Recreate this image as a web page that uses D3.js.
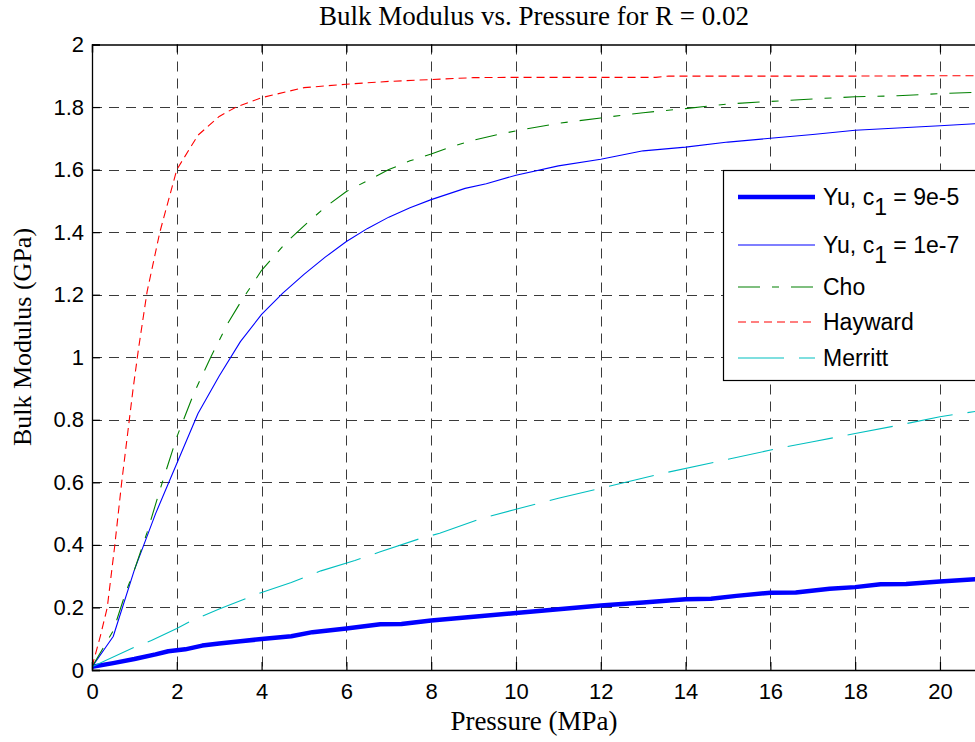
<!DOCTYPE html>
<html>
<head>
<meta charset="utf-8">
<script src="https://cdn.jsdelivr.net/npm/d3@7"></script>
<style>
  html, body { margin: 0; padding: 0; background: #fff; }
  svg { display: block; }
</style>
</head>
<body>
<svg id="chart" width="975" height="742"></svg>
<script>
// Bulk modulus (GPa) against confining pressure (MPa), one [P, B] list per model
const yuC1Large = [[0,0.01],[0.5,0.022],[1,0.035],[1.5,0.05],[1.8,0.06],[2.2,0.066],[2.6,0.078],[3,0.085],[3.5,0.092],[4,0.099],[4.7,0.108],[5.2,0.121],[6,0.133],[6.8,0.146],[7.3,0.147],[8,0.158],[9,0.17],[10,0.182],[11,0.194],[12,0.206],[13,0.216],[14,0.226],[14.6,0.228],[15.2,0.237],[16,0.247],[16.6,0.248],[17.4,0.26],[18,0.265],[18.6,0.274],[19.2,0.275],[20,0.283],[21,0.292]];
const yuC1Small = [[0,0.01],[0.5,0.107],[1,0.32],[1.5,0.5],[2,0.66],[2.5,0.82],[3,0.94],[3.5,1.05],[4,1.137],[4.5,1.205],[5,1.265],[5.5,1.32],[6,1.37],[6.5,1.412],[7,1.448],[7.5,1.478],[8,1.504],[8.8,1.54],[9.3,1.555],[10,1.582],[11,1.612],[12,1.633],[13,1.66],[14,1.672],[15,1.688],[16,1.7],[17,1.712],[18,1.726],[19,1.733],[20,1.74],[21,1.748]];
const cho = [[0,0.01],[0.5,0.125],[0.8,0.25],[1,0.32],[1.3,0.44],[1.6,0.575],[2,0.745],[2.4,0.884],[2.8,1.0],[3.2,1.108],[3.5,1.175],[4,1.278],[4.6,1.37],[5,1.42],[5.5,1.48],[6,1.53],[6.5,1.565],[7,1.6],[7.5,1.628],[8,1.65],[8.5,1.674],[9,1.694],[9.5,1.71],[10,1.724],[11,1.748],[12,1.765],[13,1.782],[14,1.795],[15,1.81],[16,1.818],[17,1.826],[18,1.833],[19,1.836],[20,1.843],[21,1.848]];
const hayward = [[0,0.01],[0.2,0.11],[0.36,0.2],[0.53,0.39],[0.7,0.6],[0.97,0.9],[1.1,1.03],[1.3,1.21],[1.6,1.4],[2,1.6],[2.5,1.71],[3,1.77],[3.4,1.8],[4,1.83],[5,1.862],[6,1.873],[7,1.882],[8,1.888],[9,1.894],[10,1.895],[12,1.895],[13.3,1.895],[13.6,1.899],[16,1.899],[18,1.899],[20,1.9],[21,1.9]];
const merritt = [[0,0.01],[1,0.073],[1.4,0.094],[2,0.133],[2.35,0.158],[3,0.195],[4,0.248],[4.7,0.28],[5.4,0.317],[6.2,0.35],[6.8,0.378],[7.8,0.423],[8.2,0.437],[9.2,0.485],[10,0.514],[11,0.549],[12,0.581],[13.4,0.627],[14.8,0.668],[16.2,0.709],[17,0.73],[18,0.756],[19,0.782],[20,0.81],[21,0.83]];

const xTicks = [0,2,4,6,8,10,12,14,16,18,20];
const yTicks = [0,0.2,0.4,0.6,0.8,1,1.2,1.4,1.6,1.8,2];
const legendLabels = [["Yu, c", "1", " = 9e-5"], ["Yu, c", "1", " = 1e-7"], ["Cho"], ["Hayward"], ["Merritt"]];

const seriesStyle = [
  { data: yuC1Large, color: "#0000ff", width: 4.5, dash: null },
  { data: yuC1Small, color: "#0000ff", width: 1.1, dash: null },
  { data: cho,       color: "#008000", width: 1.1, dash: "22,12,7,12" },
  { data: hayward,   color: "#ff0000", width: 1.1, dash: "8,5" },
  { data: merritt,   color: "#00bfbf", width: 1.1, dash: "46,15" }
];

const svg = d3.select("#chart");
const margin = { left: 92, top: 44.5, right: 976, bottom: 670 };

const x = d3.scaleLinear().domain([0, 20.85]).range([margin.left, margin.right]);
const y = d3.scaleLinear().domain([0, 2]).range([margin.bottom, margin.top]);

svg.append("defs").append("clipPath").attr("id", "plotClip")
  .append("rect")
  .attr("x", margin.left).attr("y", margin.top)
  .attr("width", margin.right - margin.left).attr("height", margin.bottom - margin.top);

// dashed grid
const grid = svg.append("g").attr("stroke", "#3a3a3a").attr("stroke-width", 1).attr("stroke-dasharray", "10,7").attr("fill", "none");
grid.selectAll("line.v").data(xTicks.filter(d => d > 0)).join("line")
  .attr("x1", d => Math.round(x(d)) + 0.5).attr("x2", d => Math.round(x(d)) + 0.5)
  .attr("y1", margin.top).attr("y2", margin.bottom);
grid.selectAll("line.h").data(yTicks.filter(d => d > 0 && d < 2)).join("line")
  .attr("y1", d => Math.round(y(d)) + 0.5).attr("y2", d => Math.round(y(d)) + 0.5)
  .attr("x1", margin.left).attr("x2", margin.right);

// curves
const line = d3.line().x(d => x(d[0])).y(d => y(d[1]));
const curves = svg.append("g").attr("clip-path", "url(#plotClip)");
seriesStyle.forEach(s => {
  curves.append("path")
    .attr("d", line(s.data))
    .attr("fill", "none")
    .attr("stroke", s.color)
    .attr("stroke-width", s.width)
    .attr("stroke-linejoin", "round")
    .attr("stroke-dasharray", s.dash);
});

// axes with inward ticks
const fmt = d => String(+d.toFixed(1));
const axisFont = "'Liberation Sans', Arial, sans-serif";

const gx = svg.append("g").attr("transform", `translate(0,${margin.bottom})`)
  .call(d3.axisBottom(x).tickValues(xTicks).tickFormat(fmt).tickSize(-8).tickPadding(13));
const gy = svg.append("g").attr("transform", `translate(${margin.left},0)`)
  .call(d3.axisLeft(y).tickValues(yTicks).tickFormat(fmt).tickSize(-8).tickPadding(8));
const gt = svg.append("g").attr("transform", `translate(0,${margin.top})`)
  .call(d3.axisTop(x).tickValues(xTicks).tickFormat("").tickSize(-8));

[gx, gy, gt].forEach(g => {
  g.selectAll("path.domain").attr("stroke", "#000").attr("stroke-width", 1.3);
  g.selectAll(".tick line").attr("stroke", "#000").attr("stroke-width", 1.2);
  g.selectAll(".tick text").attr("fill", "#000").style("font-family", axisFont).style("font-size", "22px");
});

// titles
const serif = "'Liberation Serif', 'Times New Roman', serif";
svg.append("text").attr("x", 534).attr("y", 25).attr("text-anchor", "middle")
  .style("font-family", serif).style("font-size", "27px").text("Bulk Modulus vs. Pressure for R = 0.02");
svg.append("text").attr("x", 534).attr("y", 730).attr("text-anchor", "middle")
  .style("font-family", serif).style("font-size", "27px").text("Pressure (MPa)");
svg.append("text").attr("transform", "translate(31,337) rotate(-90)").attr("text-anchor", "middle")
  .style("font-family", serif).style("font-size", "26px").text("Bulk Modulus (GPa)");

// legend
const legend = svg.append("g");
legend.append("rect").attr("x", 723.5).attr("y", 170.5).attr("width", 270).attr("height", 210)
  .attr("fill", "#fff").attr("stroke", "#000").attr("stroke-width", 1.2);
const rowY = [197, 245, 287, 322, 358];
seriesStyle.forEach((s, i) => {
  legend.append("line")
    .attr("x1", 738).attr("x2", 815).attr("y1", rowY[i]).attr("y2", rowY[i])
    .attr("stroke", s.color).attr("stroke-width", s.width).attr("stroke-dasharray", s.dash);
  const t = legend.append("text").attr("x", 823).attr("y", rowY[i] + 8)
    .style("font-family", axisFont).style("font-size", "23px").attr("fill", "#000");
  const parts = legendLabels[i];
  t.append("tspan").text(parts[0]);
  if (parts.length > 1) {
    t.append("tspan").attr("dy", 10).text(parts[1]);
    t.append("tspan").attr("dy", -10).text(parts[2]);
  }
});
</script>
</body>
</html>
